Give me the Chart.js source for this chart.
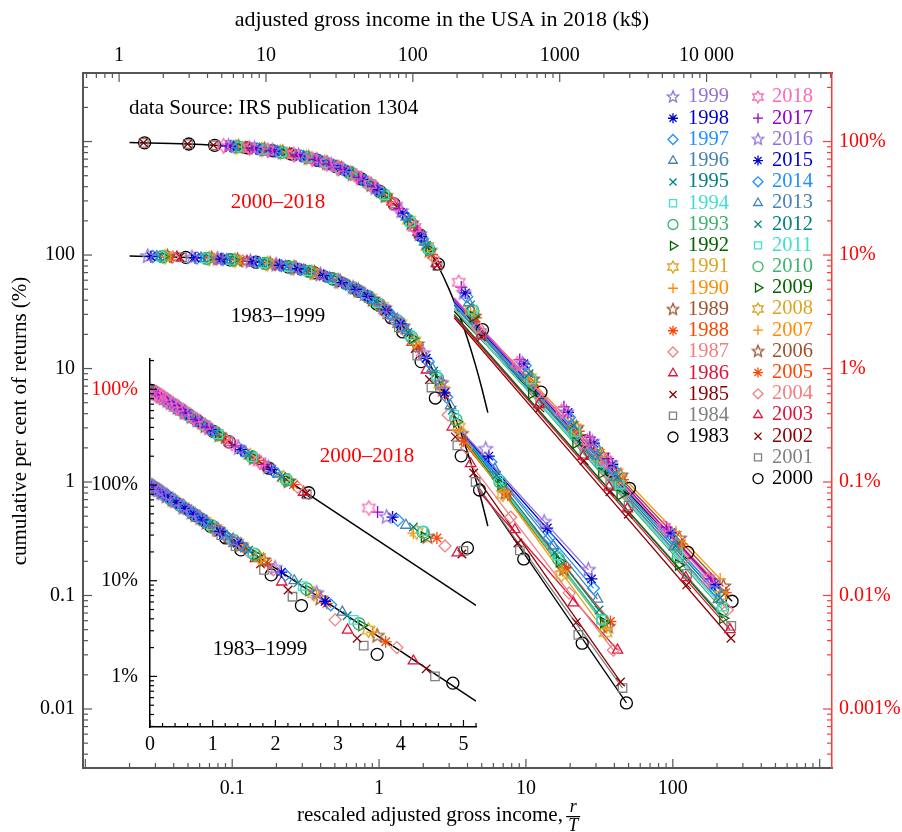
<!DOCTYPE html>
<html>
<head>
<meta charset="utf-8">
<script src="https://cdn.jsdelivr.net/npm/chart.js@4.4.1/dist/chart.umd.min.js"></script>
<style>
  html, body { margin: 0; padding: 0; background: #fff; }
  #wrap { position: relative; width: 902px; height: 832px; }
  #wrap canvas { position: absolute; left: 0; top: 0; }
</style>
</head>
<body>
<div id="wrap">
  <canvas id="mainChart" width="902" height="832"></canvas>
  <canvas id="insetChart" width="902" height="832"></canvas>
</div>
<script>
// ---------- DATA ----------
const yearsLow = [1983, 1984, 1985, 1986, 1987, 1988, 1989, 1990, 1991, 1992, 1993, 1994, 1995, 1996, 1997, 1998, 1999];
const yearsHigh = [2000, 2001, 2002, 2003, 2004, 2005, 2006, 2007, 2008, 2009, 2010, 2011, 2012, 2013, 2014, 2015, 2016, 2017, 2018];

// AGI bracket lower bounds, k$ (nominal)
const bracketsLow = [1, 2, 3, 5, 7.5, 10, 15, 20, 25, 30, 40, 50, 75, 100, 200, 500, 1000];
const bracketsHigh = [1, 2, 3, 5, 7.5, 10, 15, 20, 25, 30, 40, 50, 75, 100, 200, 500, 1000, 1500, 2000, 5000, 10000];

// temperature T per year, k$
const meanLow = [20.7, 22.0, 22.7, 23.8, 25.4, 26.6, 27.6, 28.2, 28.7, 29.6, 30.0, 30.8, 31.8, 32.6, 34.7, 35.8, 37.6];
const meanHigh = [39.5, 40.0, 40.2, 40.8, 42.5, 43.7, 45.2, 47.6, 47.0, 45.7, 45.9, 46.0, 47.6, 49.0, 50.6, 51.7, 53.0, 55.1, 57.3];

// cumulative per cent of returns above each bracket
const pctLow = [
  [95.3, 90.8, 86.5, 78.5, 69.6, 61.7, 48.0, 37.0, 28.0, 21.0, 11.5, 5.5, 1.7, 0.85, 0.21, 0.038, 0.0113],
  [95.6, 91.3, 87.3, 79.7, 71.1, 63.4, 50.0, 39.0, 30.0, 23.0, 13.0, 6.8, 2.1, 1.0, 0.25, 0.045, 0.0153],
  [95.7, 91.6, 87.6, 80.2, 71.9, 64.3, 51.0, 40.5, 32.0, 25.0, 15.0, 8.0, 2.5, 1.2, 0.29, 0.058, 0.0173],
  [95.9, 91.9, 88.2, 81.1, 73.0, 65.7, 53.0, 42.5, 34.0, 27.0, 17.0, 9.7, 3.05, 1.45, 0.38, 0.086, 0.033],
  [96.2, 92.4, 88.9, 82.1, 74.5, 67.4, 55.4, 45.0, 37.0, 30.0, 20.0, 13.0, 3.9, 2.0, 0.49, 0.105, 0.033],
  [96.3, 92.8, 89.3, 82.9, 75.4, 68.7, 56.9, 47.1, 39.1, 32.4, 22.0, 15.0, 5.8, 2.3, 0.77, 0.175, 0.059],
  [96.5, 93.0, 89.7, 83.4, 76.2, 69.6, 58.1, 48.4, 40.4, 33.7, 23.5, 16.3, 6.5, 2.65, 0.8, 0.17, 0.053],
  [96.6, 93.1, 89.9, 83.8, 76.6, 70.1, 58.7, 49.2, 41.2, 34.5, 24.2, 17.0, 7.0, 2.9, 0.82, 0.165, 0.052],
  [96.6, 93.3, 90.1, 84.0, 77.0, 70.6, 59.3, 49.8, 41.9, 35.2, 24.8, 17.5, 7.3, 3.05, 0.78, 0.152, 0.047],
  [96.7, 93.4, 90.4, 84.5, 77.6, 71.3, 60.2, 50.9, 43.0, 36.3, 25.9, 18.5, 7.9, 3.4, 0.95, 0.2, 0.058],
  [96.7, 93.5, 90.5, 84.6, 77.9, 71.7, 60.7, 51.3, 43.5, 36.8, 26.4, 18.9, 8.2, 3.55, 1.0, 0.21, 0.061],
  [96.8, 93.7, 90.7, 85.0, 78.4, 72.3, 61.4, 52.3, 44.4, 37.8, 27.3, 19.7, 8.8, 3.9, 1.05, 0.225, 0.061],
  [96.9, 93.9, 91.0, 85.5, 79.0, 73.0, 62.4, 53.3, 45.6, 38.9, 28.4, 20.8, 9.5, 4.3, 1.15, 0.24, 0.0745],
  [97.0, 94.1, 91.2, 85.8, 79.5, 73.6, 63.1, 54.2, 46.4, 39.9, 29.3, 21.6, 10.0, 4.7, 1.3, 0.273, 0.093],
  [97.1, 94.4, 91.8, 86.6, 80.6, 75.0, 64.9, 56.2, 48.7, 42.1, 31.6, 23.7, 11.5, 5.6, 1.5, 0.321, 0.116],
  [97.2, 94.6, 91.9, 86.9, 81.1, 75.7, 65.8, 57.2, 49.8, 43.3, 32.7, 24.7, 12.3, 6.1, 1.69, 0.393, 0.14],
  [97.4, 94.8, 92.3, 87.5, 81.9, 76.7, 67.1, 58.7, 51.4, 45.0, 34.5, 26.4, 13.6, 7.4, 1.95, 0.444, 0.168]
];
const pctHigh = [
  [97.5, 95.1, 92.7, 88.1, 82.7, 77.6, 68.4, 60.3, 53.1, 46.8, 36.3, 28.2, 15.0, 8.3, 2.2, 0.62, 0.23, 0.125, 0.088, 0.024, 0.0089],
  [97.5, 95.1, 92.8, 88.2, 82.9, 77.9, 68.7, 60.7, 53.5, 47.2, 36.8, 28.7, 15.3, 8.0, 2.05, 0.51, 0.178, 0.096, 0.062, 0.0155, 0.0054],
  [97.5, 95.1, 92.8, 88.3, 83.0, 78.0, 68.9, 60.8, 53.7, 47.4, 37.0, 28.8, 15.5, 8.1, 1.9, 0.45, 0.154, 0.082, 0.052, 0.0124, 0.0042],
  [null, null, null, 88.4, 83.2, 78.3, 69.2, 61.3, 54.2, 47.9, 37.5, 29.4, 15.9, 8.4, 1.95, 0.48, 0.168, 0.09, 0.058, 0.0144, 0.005],
  [null, null, null, 88.9, 83.8, 79.0, 70.3, 62.4, 55.5, 49.4, 39.0, 30.8, 17.1, 9.5, 2.31, 0.6, 0.22, 0.12, 0.079, 0.0207, 0.0075],
  [null, null, null, 89.2, 84.2, 79.5, 71.0, 63.3, 56.4, 50.3, 40.0, 31.8, 18.0, 10.1, 2.79, 0.76, 0.28, 0.158, 0.105, 0.0285, 0.0106],
  [null, null, null, 89.5, 84.7, 80.2, 71.7, 64.3, 57.5, 51.5, 41.3, 33.1, 19.0, 10.9, 2.86, 0.8, 0.30, 0.171, 0.114, 0.0317, 0.012],
  [null, null, null, 90.0, 85.4, 81.1, 73.0, 65.7, 59.2, 53.3, 43.2, 35.0, 20.7, 12.2, 3.15, 0.88, 0.34, 0.193, 0.13, 0.0365, 0.014],
  [null, null, null, 89.9, 85.2, 80.8, 72.7, 65.3, 58.7, 52.8, 42.7, 34.5, 20.3, 11.9, 3.22, 0.83, 0.30, 0.165, 0.108, 0.0279, 0.010],
  [null, null, null, 89.7, 84.9, 80.3, 72.0, 64.5, 57.9, 51.9, 41.7, 33.5, 19.4, 11.2, 2.86, 0.6, 0.22, 0.12, 0.077, 0.0186, 0.0063],
  [null, null, null, 89.7, 85.0, 80.4, 72.1, 64.7, 58.0, 52.0, 41.8, 33.7, 19.5, 11.3, 3.22, 0.78, 0.266, 0.142, 0.091, 0.0219, 0.0075],
  [null, null, null, 89.7, 85.0, 80.4, 72.2, 64.7, 58.1, 52.1, 41.9, 33.8, 19.6, 11.4, 3.3, 0.8, 0.277, 0.149, 0.095, 0.0233, 0.008],
  [null, null, null, 90.0, 85.4, 81.1, 73.0, 65.7, 59.2, 53.3, 43.2, 35.0, 20.7, 12.2, 3.64, 0.9, 0.315, 0.17, 0.11, 0.0274, 0.0095],
  [null, null, null, 90.3, 85.8, 81.5, 73.6, 66.5, 60.0, 54.2, 44.2, 36.1, 21.6, 13.0, 3.8, 0.93, 0.32, 0.171, 0.11, 0.0268, 0.0092],
  [null, null, null, 90.6, 86.2, 82.0, 74.4, 67.4, 61.0, 55.3, 45.3, 37.2, 22.7, 13.9, 4.3, 1.06, 0.37, 0.2, 0.129, 0.0317, 0.011],
  [null, null, null, 90.8, 86.5, 82.4, 74.8, 67.9, 61.6, 56.0, 46.1, 38.0, 23.4, 14.5, 4.63, 1.1, 0.41, 0.22, 0.143, 0.0357, 0.0125],
  [null, null, null, 91.0, 86.8, 82.8, 75.3, 68.6, 62.4, 56.8, 47.0, 38.9, 24.3, 15.2, 4.63, 1.1, 0.41, 0.225, 0.146, 0.0366, 0.013],
  [null, null, null, 91.3, 87.3, 83.4, 76.2, 69.6, 63.5, 58.0, 48.4, 40.4, 25.6, 16.3, 5.22, 1.2, 0.46, 0.248, 0.161, 0.04, 0.014],
  [null, null, null, 91.6, 87.7, 83.9, 77.0, 70.5, 64.7, 59.2, 49.8, 41.8, 27.0, 17.5, 5.75, 1.1, 0.42, 0.23, 0.155, 0.04, 0.014]
];

// where each Pareto tail line starts [r/T, %]
const tailStartLow = [[4.75, 0.9], [4.6, 0.95], [4.3, 1.25], [4.7, 0.85], [4.1, 1.5], [3.9, 2.1], [3.85, 2.2], [3.85, 2.25], [3.85, 2.3],
  [3.8, 2.4], [3.8, 2.45], [3.8, 2.5], [3.75, 2.55], [3.75, 2.6], [3.7, 2.65], [3.7, 2.7], [3.65, 2.8]];
const tailStartHigh = [[3.25, 3.2], [3.25, 2.9], [3.25, 2.8], [3.25, 2.9], [3.25, 3.3], [3.25, 3.6], [3.25, 3.8], [3.25, 4.0], [3.25, 3.6],
  [3.25, 3.0], [3.25, 3.4], [3.25, 3.4], [3.25, 3.6], [3.25, 3.6], [3.25, 3.8], [3.25, 3.9], [3.25, 4.0], [3.25, 4.1], [3.25, 4.2]];

// exponential (Boltzmann-Gibbs) fit
const fitX = [0.02, 0.05, 0.1, 0.2, 0.3, 0.4, 0.5, 0.7, 1, 1.3, 1.6, 2, 2.5, 3, 3.5, 4, 4.5, 5, 5.5];
const fitPct = [98.0, 95.1, 90.5, 81.9, 74.1, 67.0, 60.7, 49.7, 36.8, 27.3, 20.2, 13.5, 8.21, 4.98, 3.02, 1.83, 1.11, 0.674, 0.409];
const insetFitX = [0, 5.2];
const insetFitPct = [100, 0.552];

const topAxisT = 58.9; // k$ per unit r/T, 2018 dollars

const xLabels = [0.1, 1, 10, 100];
const yLabels = [0.01, 0.1, 1, 10, 100];
const topLabels = [1, 10, 100, 1000, 10000];
const rightLabels = [100, 10, 1, 0.1, 0.01, 0.001];
const insetYLabels = [1000, 100, 10, 1];
const insetXLabels = [0, 1, 2, 3, 4, 5];

// ---------- LOOK ----------
const palette = ['#000000', '#808080', '#8b0000', '#dc143c', '#f08080', '#ff4500', '#a0522d', '#ff8c00', '#daa520', '#006400',
  '#3cb371', '#40e0d0', '#008080', '#4682b4', '#1e90ff', '#0000cd', '#9370db', '#9400d3', '#ff69b4'];
const markerKinds = ['circle', 'rect', 'crossRot', 'triangle', 'rectRot', 'star', 'star5', 'cross', 'hexagram', 'rtri',
  'circle', 'rect', 'crossRot', 'triangle', 'rectRot', 'star', 'star5', 'cross', 'hexagram'];
const SERIF = '"Liberation Serif", "Times New Roman", serif';
const RED = '#ff0000';

Chart.defaults.font.family = SERIF;
Chart.defaults.font.size = 20;
Chart.defaults.color = '#000';

const shapeCache = {};
function drawShape(kind, color, r) {
  const s = Math.ceil(2 * r + 4);
  const c = document.createElement('canvas');
  c.width = s; c.height = s;
  const g = c.getContext('2d');
  g.strokeStyle = color;
  g.lineWidth = 1.3;
  const n = kind === 'star5' ? 5 : 6;
  const inner = kind === 'star5' ? r * 0.45 : r * 0.58;
  g.beginPath();
  for (let i = 0; i < 2 * n; i++) {
    const rr = i % 2 ? inner : r;
    const a = -Math.PI / 2 + i * Math.PI / n;
    const px = s / 2 + rr * Math.cos(a), py = s / 2 + rr * Math.sin(a);
    if (i) g.lineTo(px, py); else g.moveTo(px, py);
  }
  g.closePath();
  g.stroke();
  return c;
}

function pointLook(slot, r) {
  const kind = markerKinds[slot];
  if (kind === 'star5' || kind === 'hexagram') {
    const key = kind + slot + '_' + r;
    if (!shapeCache[key]) shapeCache[key] = drawShape(kind, palette[slot], r * 1.2);
    return { style: shapeCache[key], rot: 0 };
  }
  if (kind === 'rtri') return { style: 'triangle', rot: 90 };
  return { style: kind, rot: 0 };
}

function yearPoints(brackets, mean, pct, maxX) {
  const pts = [];
  brackets.forEach((b, i) => {
    if (pct[i] == null) return;
    const x = b / mean;
    if (maxX && x > maxX) return;
    pts.push({ x, y: pct[i] });
  });
  return pts;
}

function markerSet(pts, slot, axis) {
  const look = pointLook(slot, 6);
  return {
    data: pts, yAxisID: axis, showLine: false,
    pointStyle: look.style, pointRotation: look.rot, pointRadius: 6,
    pointBorderWidth: 1.3, pointBorderColor: palette[slot], borderColor: palette[slot],
    pointBackgroundColor: 'rgba(0,0,0,0)'
  };
}

function lineSet(pts, color, axis, width) {
  return {
    data: pts, yAxisID: axis, showLine: true, borderColor: color, borderWidth: width,
    pointRadius: 0, fill: false, cubicInterpolationMode: 'monotone'
  };
}

// ---------- TICKS ----------
function tickValues(sc) {
  const out = [];
  if (sc.type === 'logarithmic') {
    for (let e = Math.floor(Math.log10(sc.min)); e <= Math.ceil(Math.log10(sc.max)); e++) {
      for (let m = 1; m <= 9; m++) {
        const v = m * Math.pow(10, e);
        if (v >= sc.min && v <= sc.max) out.push({ v, major: m === 1 });
      }
    }
  } else {
    for (let k = 0; k * 0.2 <= sc.max + 1e-9; k++) out.push({ v: k * 0.2, major: k % 5 === 0 });
  }
  return out;
}

const inwardTicks = {
  id: 'inwardTicks',
  afterDatasetsDraw(chart, args, opts) {
    const ctx = chart.ctx;
    ctx.save();
    Object.values(chart.scales).forEach((sc) => {
      if (!sc.options.display) return;
      ctx.strokeStyle = sc.options.border.color;
      ctx.lineWidth = opts.width;
      tickValues(sc).forEach((t) => {
        const len = t.major ? opts.major : opts.minor;
        const p = sc.getPixelForValue(t.v);
        ctx.beginPath();
        if (sc.position === 'left') { ctx.moveTo(sc.right, p); ctx.lineTo(sc.right + len, p); }
        else if (sc.position === 'right') { ctx.moveTo(sc.left, p); ctx.lineTo(sc.left - len, p); }
        else if (sc.position === 'top') { ctx.moveTo(p, sc.bottom); ctx.lineTo(p, sc.bottom + len); }
        else { ctx.moveTo(p, sc.top); ctx.lineTo(p, sc.top - len); }
        ctx.stroke();
      });
    });
    ctx.restore();
  }
};

const fixedTicks = (list) => (scale) => { scale.ticks = list.map((v) => ({ value: v })); };
const noGrid = { display: false, drawTicks: false };

// ---------- MAIN CHART ----------
const mainMarkers = [], mainTails = [];
for (let i = yearsHigh.length - 1; i >= 0; i--) {
  const pts = yearPoints(bracketsHigh, meanHigh[i], pctHigh[i]);
  mainMarkers.push(markerSet(pts, i, 'yR'));
  const last = pts[pts.length - 1];
  mainTails.push(lineSet([{ x: tailStartHigh[i][0], y: tailStartHigh[i][1] }, last], palette[i], 'yR', 1.3));
}
for (let i = yearsLow.length - 1; i >= 0; i--) {
  const pts = yearPoints(bracketsLow, meanLow[i], pctLow[i]);
  mainMarkers.push(markerSet(pts, i, 'y'));
  const last = pts[pts.length - 1];
  mainTails.push(lineSet([{ x: tailStartLow[i][0], y: tailStartLow[i][1] }, last], palette[i], 'y', 1.3));
}
const fitPts = fitX.map((x, i) => ({ x, y: fitPct[i] }));
const mainFits = [lineSet(fitPts, '#000', 'y', 1.5), lineSet(fitPts, '#000', 'yR', 1.5)];

const mainText = {
  id: 'mainText',
  afterDraw(chart) {
    const ctx = chart.ctx;
    ctx.save();
    ctx.textBaseline = 'middle';
    ctx.textAlign = 'center';
    ctx.fillStyle = '#000';

    // axis titles
    ctx.font = '22px ' + SERIF;
    ctx.fillText('adjusted gross income in the USA in 2018 (k$)', 442, 20);
    ctx.font = '21px ' + SERIF;
    ctx.save();
    ctx.translate(20, 421);
    ctx.rotate(-Math.PI / 2);
    ctx.fillText('cumulative per cent of returns (%)', 0, 0);
    ctx.restore();

    ctx.textAlign = 'left';
    ctx.fillText('data Source: IRS publication 1304', 129, 108);
    ctx.textAlign = 'center';
    ctx.fillStyle = RED;
    ctx.fillText('2000\u20132018', 278, 202);
    ctx.fillStyle = '#000';
    ctx.fillText('1983\u20131999', 278, 316);

    // bottom axis title with r/T fraction
    ctx.textAlign = 'left';
    ctx.textBaseline = 'alphabetic';
    const t = 'rescaled adjusted gross income, ';
    ctx.fillText(t, 297, 821);
    const fx = 297 + ctx.measureText(t).width + 5;
    ctx.font = 'italic 18px ' + SERIF;
    ctx.textAlign = 'center';
    ctx.fillText('r', fx, 812);
    ctx.fillText('T', fx, 831);
    ctx.fillRect(fx - 7, 816, 14, 1.2);

    // legend, two columns
    ctx.font = '20.5px ' + SERIF;
    ctx.textAlign = 'left';
    ctx.textBaseline = 'middle';
    const drawEntry = (slot, year, mx, tx, y) => {
      const look = pointLook(slot, 5);
      ctx.strokeStyle = palette[slot];
      ctx.fillStyle = 'rgba(0,0,0,0)';
      ctx.lineWidth = 1.3;
      Chart.helpers.drawPoint(ctx, { pointStyle: look.style, rotation: look.rot, radius: 5, borderWidth: 1.3 }, mx, y);
      ctx.fillStyle = palette[slot];
      ctx.fillText(String(year), tx, y);
    };
    for (let i = yearsLow.length - 1; i >= 0; i--) {
      drawEntry(i, yearsLow[i], 673, 688, 97 + (yearsLow.length - 1 - i) * 21.25);
    }
    for (let i = yearsHigh.length - 1; i >= 0; i--) {
      drawEntry(i, yearsHigh[i], 758, 772, 97 + (yearsHigh.length - 1 - i) * 21.2);
    }
    ctx.restore();
  }
};

const fmtNum = (v) => (v === 10000 ? '10 000' : String(v));

new Chart(document.getElementById('mainChart'), {
  type: 'scatter',
  data: { datasets: [...mainMarkers, ...mainTails, ...mainFits] },
  options: {
    responsive: false, animation: false, events: [], devicePixelRatio: 1,
    layout: { padding: 0 },
    plugins: {
      legend: { display: false }, tooltip: { enabled: false },
      inwardTicks: { major: 9, minor: 5, width: 1.2 }
    },
    scales: {
      x: {
        type: 'logarithmic', position: 'bottom', min: 0.00964, max: 1213, bounds: 'data',
        grid: noGrid, border: { color: '#555', width: 2 },
        ticks: { autoSkip: false, maxRotation: 0, padding: 9, callback: fmtNum },
        afterBuildTicks: fixedTicks(xLabels),
        afterFit: (s) => { s.height = 64; }
      },
      xTop: {
        type: 'logarithmic', position: 'top', min: 0.00964 * topAxisT, max: 1213 * topAxisT, bounds: 'data',
        grid: noGrid, border: { color: '#555', width: 2 },
        ticks: { autoSkip: false, maxRotation: 0, padding: 5, callback: fmtNum },
        afterBuildTicks: fixedTicks(topLabels),
        afterFit: (s) => { s.height = 73; }
      },
      y: {
        type: 'logarithmic', position: 'left', min: 0.00302, max: 4018, bounds: 'data',
        grid: noGrid, border: { color: '#555', width: 2 },
        ticks: { autoSkip: false, padding: 8, callback: fmtNum },
        afterBuildTicks: fixedTicks(yLabels),
        afterFit: (s) => { s.width = 83; }
      },
      yR: {
        type: 'logarithmic', position: 'right', min: 0.000302, max: 401.8, bounds: 'data',
        grid: noGrid, border: { color: '#ff3838', width: 1.5 },
        ticks: { autoSkip: false, padding: 7, color: RED, callback: (v) => v + '%' },
        afterBuildTicks: fixedTicks(rightLabels),
        afterFit: (s) => { s.width = 70; }
      }
    }
  },
  plugins: [inwardTicks, mainText]
});

// ---------- INSET (linear r/T) ----------
const insetMarkers = [];
for (let i = yearsHigh.length - 1; i >= 0; i--) {
  insetMarkers.push(markerSet(yearPoints(bracketsHigh, meanHigh[i], pctHigh[i], 5.2), i, 'yU'));
}
for (let i = yearsLow.length - 1; i >= 0; i--) {
  insetMarkers.push(markerSet(yearPoints(bracketsLow, meanLow[i], pctLow[i], 5.2), i, 'yL'));
}
const insetFitPts = insetFitX.map((x, i) => ({ x, y: insetFitPct[i] }));
const insetFits = [lineSet(insetFitPts, '#000', 'yL', 1.5), lineSet(insetFitPts, '#000', 'yU', 1.5)];

const insetText = {
  id: 'insetText',
  afterDraw(chart) {
    const ctx = chart.ctx;
    ctx.save();
    ctx.font = '21px ' + SERIF;
    ctx.textBaseline = 'middle';
    ctx.textAlign = 'center';
    ctx.fillStyle = RED;
    ctx.fillText('2000\u20132018', 367, 456);
    ctx.fillStyle = '#000';
    ctx.fillText('1983\u20131999', 260, 649);
    ctx.restore();
  }
};

new Chart(document.getElementById('insetChart'), {
  type: 'scatter',
  data: { datasets: [...insetMarkers, ...insetFits] },
  options: {
    responsive: false, animation: false, events: [], devicePixelRatio: 1,
    layout: { padding: { left: 90, right: 426, top: 359, bottom: 65 } },
    plugins: {
      legend: { display: false }, tooltip: { enabled: false },
      inwardTicks: { major: 7, minor: 4, width: 1.2 }
    },
    scales: {
      x: {
        type: 'linear', position: 'bottom', min: 0, max: 5.2, bounds: 'data',
        grid: noGrid, border: { color: '#000', width: 1.5 },
        ticks: { autoSkip: false, maxRotation: 0, padding: 6, callback: (v) => String(v) },
        afterBuildTicks: fixedTicks(insetXLabels),
        afterFit: (s) => { s.height = 40; }
      },
      yL: {
        type: 'logarithmic', position: 'left', min: 0.296, max: 2075, bounds: 'data',
        grid: noGrid, border: { color: '#000', width: 1.5 },
        ticks: {
          autoSkip: false, padding: 12,
          color: (c) => (c.tick && c.tick.value === 1000 ? RED : '#000'),
          callback: (v) => (v === 1000 ? 100 : v) + '%'
        },
        afterBuildTicks: fixedTicks(insetYLabels),
        afterFit: (s) => { s.width = 60; }
      },
      yU: { type: 'logarithmic', display: false, min: 0.0296, max: 207.5, bounds: 'data' }
    }
  },
  plugins: [inwardTicks, insetText]
});
</script>
</body>
</html>
